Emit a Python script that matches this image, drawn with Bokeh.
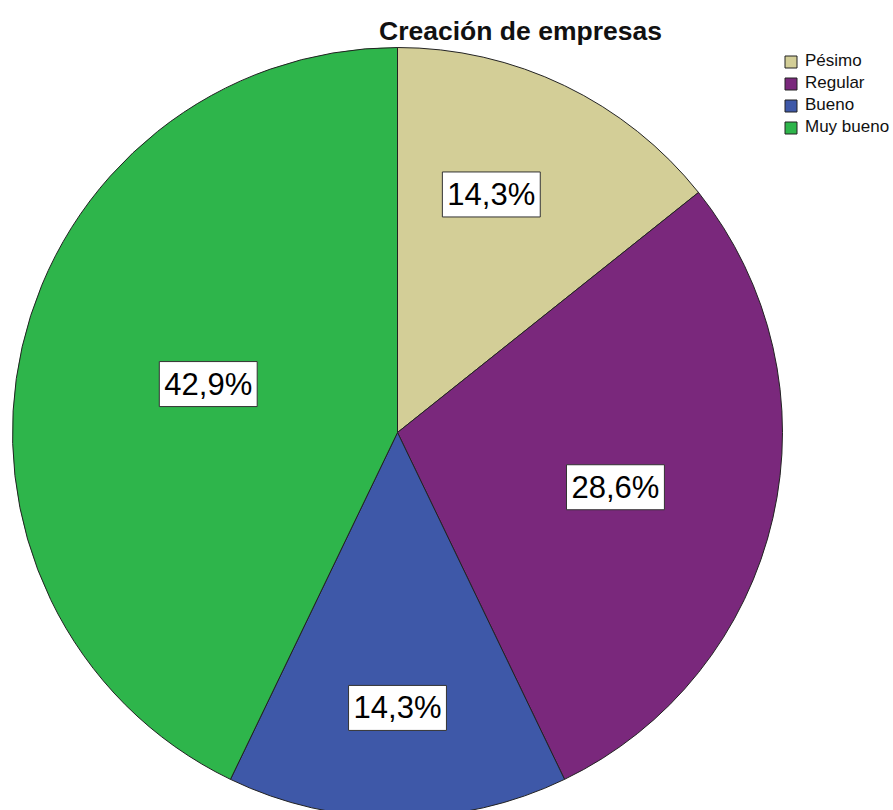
import math
from bokeh.plotting import figure
from bokeh.models import Range1d, ColumnDataSource, Label, Legend, LegendItem
from bokeh.embed import file_html
from bokeh.resources import INLINE

categories = ["Pésimo", "Regular", "Bueno", "Muy bueno"]
counts = [1, 2, 1, 3]
colors = ["#d3ce97", "#7a287c", "#3e58a8", "#2eb54b"]
title_text = "Creación de empresas"

W, H = 893, 810
cx, cy, R = 397, H - 432, 385
label_r_scale = [1.02, 1.0, 1.11, 1.05]
label_nudge = [(-16, 10), (0, -5), (0, 0), (1, 5)]

total = sum(counts)
starts, ends, mids, pcts = [], [], [], []
acc = 0.0
for c in counts:
    frac = c / total
    a0 = math.pi / 2 - 2 * math.pi * acc
    a1 = math.pi / 2 - 2 * math.pi * (acc + frac)
    starts.append(a0)
    ends.append(a1)
    mids.append((a0 + a1) / 2)
    pcts.append(f"{100 * frac:.1f}%".replace(".", ","))
    acc += frac

src = ColumnDataSource(dict(cat=categories, start=starts, end=ends, color=colors))

p = figure(width=W, height=H, output_backend="svg", toolbar_location=None,
           x_range=Range1d(0, W), y_range=Range1d(0, H), min_border=0)
p.axis.visible = False
p.grid.visible = False
p.outline_line_color = None

r = p.wedge(x=cx, y=cy, radius=R, start_angle="end", end_angle="start",
            fill_color="color", line_color="#222222", line_width=1, source=src)

for i, c in enumerate(counts):
    half = math.pi * c / total
    d = 2 * R * math.sin(half) / (3 * half) * label_r_scale[i]
    lx = cx + d * math.cos(mids[i]) + label_nudge[i][0]
    ly = cy + d * math.sin(mids[i]) + label_nudge[i][1]
    p.add_layout(Label(x=lx, y=ly, text=pcts[i], text_align="center", text_baseline="middle",
                       text_font="Liberation Sans", text_font_size="31px", text_color="black",
                       background_fill_color="white", border_line_color="#333333",
                       border_line_width=1, padding=5))

p.add_layout(Label(x=520, y=H - 30.5, text=title_text, text_align="center", text_baseline="middle",
                   text_font="Liberation Sans", text_font_size="26.5px", text_font_style="bold",
                   text_color="#111111"))

items = [LegendItem(label=categories[i], renderers=[r], index=i) for i in range(len(categories))]
leg = Legend(items=items, location=(783, 673), glyph_width=15, glyph_height=15,
             label_text_font="Liberation Sans", label_text_font_size="17px",
             label_text_color="#111111",
             label_height=15, spacing=2, padding=0, margin=0, label_standoff=7,
             border_line_color=None, background_fill_alpha=0)
p.add_layout(leg, "center")

open("out.html", "w").write(file_html(p, INLINE))
